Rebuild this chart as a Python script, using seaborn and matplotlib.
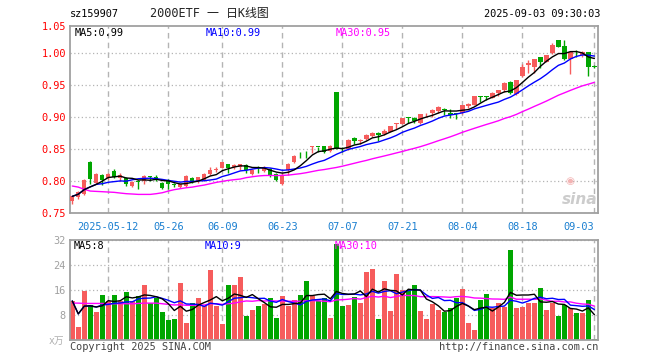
import numpy as np
import pandas as pd
import seaborn as sns
import matplotlib
matplotlib.use('Agg')
import matplotlib.pyplot as plt

# trading sessions shown on the chart (2025)
dates = ['04-29', '04-30',
         '05-06', '05-07', '05-08', '05-09', '05-12', '05-13', '05-14', '05-15', '05-16',
         '05-19', '05-20', '05-21', '05-22', '05-23', '05-26', '05-27', '05-28', '05-29', '05-30',
         '06-03', '06-04', '06-05', '06-06', '06-09', '06-10', '06-11', '06-12', '06-13',
         '06-16', '06-17', '06-18', '06-19', '06-20', '06-23', '06-24', '06-25', '06-26', '06-27', '06-30',
         '07-01', '07-02', '07-03', '07-04', '07-07', '07-08', '07-09', '07-10', '07-11',
         '07-14', '07-15', '07-16', '07-17', '07-18', '07-21', '07-22', '07-23', '07-24', '07-25',
         '07-28', '07-29', '07-30', '07-31',
         '08-01', '08-04', '08-05', '08-06', '08-07', '08-08', '08-11', '08-12', '08-13', '08-14', '08-15',
         '08-18', '08-19', '08-20', '08-21', '08-22', '08-25', '08-26', '08-27', '08-28', '08-29',
         '09-01', '09-02', '09-03']

opens = [0.7680, 0.7745, 0.7797, 0.8287, 0.7964, 0.8094, 0.8047, 0.8146, 0.8047, 0.8047,
         0.7922, 0.8000, 0.7995, 0.8068, 0.8057, 0.7964, 0.8016, 0.7943, 0.7900, 0.7922,
         0.8042, 0.7990, 0.8016, 0.8100, 0.8170, 0.8203, 0.8255, 0.8214, 0.8214, 0.8245,
         0.8100, 0.8198, 0.8151, 0.8182, 0.8110, 0.7948, 0.8174, 0.8290, 0.8415, 0.8418,
         0.8528, 0.8530, 0.8540, 0.8466, 0.9383, 0.8500, 0.8492, 0.8664, 0.8628, 0.8648,
         0.8695, 0.8752, 0.8727, 0.8763, 0.8885, 0.8888, 0.8990, 0.8980, 0.8904, 0.9036,
         0.9055, 0.9086, 0.9115, 0.9060, 0.9050, 0.9050, 0.9164, 0.9190, 0.9320, 0.9320,
         0.9294, 0.9365, 0.9417, 0.9536, 0.9354, 0.9635, 0.9800, 0.9780, 0.9927, 0.9860,
         0.9990, 1.0198, 1.0110, 0.9896, 0.9980, 0.9970, 1.0010, 0.9780]
highs = [0.7770, 0.7840, 0.8020, 0.8300, 0.8115, 0.8100, 0.8120, 0.8177, 0.8125, 0.8060,
         0.7990, 0.8005, 0.8086, 0.8078, 0.8083, 0.7980, 0.8020, 0.7964, 0.7953, 0.8088,
         0.8060, 0.8060, 0.8115, 0.8214, 0.8214, 0.8297, 0.8265, 0.8265, 0.8265, 0.8265,
         0.8190, 0.8224, 0.8224, 0.8203, 0.8115, 0.8115, 0.8278, 0.8398, 0.8445, 0.8460,
         0.8535, 0.8532, 0.8545, 0.8555, 0.9383, 0.8528, 0.8648, 0.8685, 0.8659, 0.8737,
         0.8755, 0.8768, 0.8800, 0.8862, 0.8906, 0.8985, 0.8995, 0.9003, 0.9045, 0.9060,
         0.9122, 0.9164, 0.9133, 0.9122, 0.9055, 0.9180, 0.9216, 0.9325, 0.9325, 0.9325,
         0.9382, 0.9418, 0.9545, 0.9562, 0.9578, 0.9823, 0.9880, 0.9896, 0.9930, 0.9969,
         1.0146, 1.0198, 1.0198, 1.0005, 1.0042, 1.0031, 1.0010, 0.9812]
lows = [0.7630, 0.7720, 0.7770, 0.7950, 0.7950, 0.7940, 0.8030, 0.8040, 0.8000, 0.7917,
        0.7900, 0.7865, 0.7953, 0.7995, 0.7995, 0.7875, 0.7875, 0.7900, 0.7885, 0.7900,
        0.7970, 0.7970, 0.8000, 0.8083, 0.8135, 0.8193, 0.8115, 0.8188, 0.8172, 0.8120,
        0.8083, 0.8125, 0.8135, 0.8060, 0.7995, 0.7937, 0.8085, 0.8270, 0.8360, 0.8360,
        0.8435, 0.8445, 0.8440, 0.8445, 0.8495, 0.8450, 0.8476, 0.8580, 0.8570, 0.8632,
        0.8680, 0.8617, 0.8715, 0.8755, 0.8807, 0.8880, 0.8906, 0.8904, 0.8890, 0.9000,
        0.9000, 0.9050, 0.9034, 0.8972, 0.8966, 0.9040, 0.9130, 0.9180, 0.9233, 0.9260,
        0.9285, 0.9330, 0.9380, 0.9354, 0.9340, 0.9625, 0.9690, 0.9687, 0.9760, 0.9850,
        0.9974, 1.0090, 0.9885, 0.9667, 0.9937, 0.9937, 0.9635, 0.9760]
closes = [0.7755, 0.7823, 0.8005, 0.8031, 0.8100, 0.8005, 0.8110, 0.8057, 0.8083, 0.7953,
          0.7980, 0.7980, 0.8070, 0.8050, 0.8031, 0.7885, 0.7953, 0.7930, 0.7943, 0.8068,
          0.7980, 0.8050, 0.8110, 0.8161, 0.8175, 0.8287, 0.8200, 0.8245, 0.8255, 0.8161,
          0.8172, 0.8193, 0.8203, 0.8089, 0.8016, 0.8094, 0.8258, 0.8393, 0.8410, 0.8412,
          0.8535, 0.8525, 0.8450, 0.8540, 0.8502, 0.8490, 0.8633, 0.8622, 0.8633, 0.8710,
          0.8747, 0.8721, 0.8773, 0.8852, 0.8890, 0.8977, 0.8980, 0.8935, 0.9039, 0.9040,
          0.9112, 0.9159, 0.9109, 0.9023, 0.9040, 0.9175, 0.9206, 0.9320, 0.9310, 0.9310,
          0.9377, 0.9414, 0.9530, 0.9375, 0.9573, 0.9780, 0.9833, 0.9896, 0.9854, 0.9969,
          1.0120, 1.0094, 0.9896, 1.0005, 0.9974, 1.0010, 0.9780, 0.9776]
# volume, in units of 万手
volumes = [12.5, 4.2, 15.8, 11.2, 9.1, 14.4, 12.5, 14.4, 12.5, 15.4,
           12.5, 14.1, 17.6, 11.7, 13.3, 9.1, 6.4, 6.7, 18.4, 5.5,
           11.8, 13.4, 10.9, 22.4, 10.9, 5.1, 17.6, 17.6, 20.2, 7.7,
           9.6, 10.9, 11.5, 13.4, 7.0, 14.1, 10.9, 12.8, 14.4, 18.9,
           14.1, 12.5, 13.4, 7.0, 30.7, 10.9, 11.2, 13.8, 11.8, 21.8,
           22.7, 6.7, 18.9, 9.3, 21.1, 16.0, 16.0, 17.6, 9.3, 6.7,
           11.5, 9.6, 9.0, 10.2, 13.4, 16.3, 5.4, 3.2, 12.8, 14.7,
           10.2, 11.8, 10.6, 28.8, 10.2, 10.6, 11.8, 11.8, 16.6, 9.6,
           11.8, 7.7, 11.2, 10.2, 8.6, 8.6, 12.8, 0.3]
# MA30 values for the first 29 sessions (history before the window)
ma30_head = [0.7917, 0.7900, 0.7865, 0.7838, 0.7833, 0.7828, 0.7823, 0.7818, 0.7807, 0.7797,
             0.7792, 0.7786, 0.7786, 0.7786, 0.7797, 0.7812, 0.7838, 0.7860, 0.7875, 0.7890,
             0.7900, 0.7917, 0.7932, 0.7953, 0.7974, 0.7990, 0.8005, 0.8016, 0.8026]
vol_ma30_head = [11.8, 11.8, 11.7, 11.7, 11.7, 11.7, 11.6, 11.6, 11.6, 11.6,
                 11.6, 11.7, 11.8, 11.8, 11.8, 11.6, 11.4, 11.2, 11.3, 11.1,
                 11.1, 11.2, 11.2, 11.6, 11.6, 11.4, 11.6, 11.8, 12.2]

tick_dates = ['05-12', '05-26', '06-09', '06-23', '07-07', '07-21', '08-04', '08-18', '09-03']
tick_labels = ['2025-05-12', '05-26', '06-09', '06-23', '07-07', '07-21', '08-04', '08-18', '09-03']
price_ticks = [0.75, 0.80, 0.85, 0.90, 0.95, 1.00]
vol_ticks = [8, 16, 24, 32]

RED = '#f65c5c'
GREEN = '#00a600'
FRAME = '#a0a0a0'
GRID = '#b4b4b4'
W, H = 660, 360


def px(x, y):
    return x / W, 1 - y / H


df = pd.DataFrame({'date': dates, 'open': opens, 'high': highs, 'low': lows,
                   'close': closes, 'vol': volumes})
df['idx'] = np.arange(len(df))
df['ma5'] = df['close'].rolling(5, min_periods=1).mean()
df['ma10'] = df['close'].rolling(10, min_periods=1).mean()
df['ma30'] = df['close'].rolling(30).mean()
df.loc[:len(ma30_head) - 1, 'ma30'] = ma30_head
df['vma5'] = df['vol'].rolling(5, min_periods=1).mean()
df['vma10'] = df['vol'].rolling(10, min_periods=1).mean()
df['vma30'] = df['vol'].rolling(30).mean()
df.loc[:len(vol_ma30_head) - 1, 'vma30'] = vol_ma30_head
df['color'] = np.where(df['close'] >= df['open'], RED, GREEN)

sns.set_theme(style='white')
plt.rcParams['font.family'] = ['DejaVu Sans Mono', 'Noto Sans CJK SC']

fig = plt.figure(figsize=(6.6, 3.6), dpi=100)
fig.patch.set_facecolor('white')
ax = fig.add_axes([70 / W, 1 - 212.7 / H, 528 / W, (212.7 - 26) / H])
ax2 = fig.add_axes([70 / W, 20 / H, 528 / W, 100 / H])

tick_pos = [dates.index(d) for d in tick_dates]

for a in (ax, ax2):
    a.set_facecolor('white')
    a.set_xlim(-0.38, 87.6)
    a.set_xticks(tick_pos)
    a.set_axisbelow(True)
    a.grid(axis='x', color=GRID, ls=(0, (4, 3)), lw=1.0)
    a.grid(axis='y', color=GRID, ls=(0, (1, 2)), lw=0.9)
    a.tick_params(length=0)
    for sp in a.spines.values():
        sp.set_color(FRAME)
        sp.set_linewidth(1.3)

# candles
ax.vlines(df['idx'], df['low'], df['high'], colors=df['color'], lw=1.0, zorder=2)
body_low = np.minimum(df['open'], df['close'])
body_h = np.maximum((df['close'] - df['open']).abs(), 0.0012)
ax.bar(df['idx'], body_h, bottom=body_low, width=0.72, color=df['color'], lw=0, zorder=3)

sns.lineplot(data=df, x='idx', y='ma30', ax=ax, color='#ff00ff', lw=1.0, zorder=4, legend=False)
sns.lineplot(data=df, x='idx', y='ma10', ax=ax, color='#0000ff', lw=1.0, zorder=4, legend=False)
sns.lineplot(data=df, x='idx', y='ma5', ax=ax, color='black', lw=1.0, zorder=4, legend=False)

ax.set_ylim(0.75, 0.75 + 0.05 * (212.7 - 26) / 32)
ax.set_yticks(price_ticks)
ax.set_yticklabels([f'{v:.2f}' for v in price_ticks], color='red', fontsize=7.4)
ax.tick_params(axis='y', pad=3)
ax.set_xticklabels(tick_labels, color='#1a7fd0', fontsize=7.4)
ax.tick_params(axis='x', pad=7)
ax.get_xticklabels()[-1].set_ha('right')
ax.set_xlabel('')
ax.set_ylabel('')

# volume
ax2.bar(df['idx'], df['vol'], width=0.82, color=df['color'], lw=0, zorder=2)
sns.lineplot(data=df, x='idx', y='vma30', ax=ax2, color='#ff00ff', lw=1.0, zorder=4, legend=False)
sns.lineplot(data=df, x='idx', y='vma10', ax=ax2, color='#0000ff', lw=1.0, zorder=4, legend=False)
sns.lineplot(data=df, x='idx', y='vma5', ax=ax2, color='black', lw=1.0, zorder=4, legend=False)
ax2.set_ylim(0, 32)
ax2.set_yticks(vol_ticks)
ax2.set_yticklabels([str(v) for v in vol_ticks], color='#a0a0a0', fontsize=7.4)
ax2.tick_params(axis='y', pad=3)
ax2.set_xticklabels([])
ax2.set_xlabel('')
ax2.set_ylabel('')

# header
fs = 7.4
fig.text(*px(70, 14), 'sz159907', ha='left', va='center', fontsize=fs, color='black')
fig.text(*px(150, 14), '2000ETF 一 日K线图', ha='left', va='center', fontsize=8.6, color='#222222')
fig.text(*px(600, 14), '2025-09-03 09:30:03', ha='right', va='center', fontsize=fs, color='black')
fig.text(*px(66, 27), '1.05', ha='right', va='center', fontsize=fs, color='red')

# MA captions
fig.text(*px(75, 33), 'MA5:0.99', ha='left', va='center', fontsize=fs, color='black')
fig.text(*px(206, 33), 'MA10:0.99', ha='left', va='center', fontsize=fs, color='#0000ff')
fig.text(*px(336, 33), 'MA30:0.95', ha='left', va='center', fontsize=fs, color='#ff00ff')
fig.text(*px(74, 246), 'MA5:8', ha='left', va='center', fontsize=fs, color='black')
fig.text(*px(205, 246), 'MA10:9', ha='left', va='center', fontsize=fs, color='#0000ff')
fig.text(*px(335, 246), 'MA30:10', ha='left', va='center', fontsize=fs, color='#ff00ff')

# watermark
fig.text(*px(570, 181), '◉', ha='center', va='center', fontsize=7.5, color='#f3b4b4',
         family=['DejaVu Sans'])
fig.text(*px(580, 200), 'sina', ha='center', va='center', fontsize=11, color='#cccccc',
         style='italic', weight='bold', family=['DejaVu Sans'])

# footer
fig.text(*px(64, 341), 'x万', ha='right', va='center', fontsize=7, color='#b0b0b0')
fig.text(*px(70, 347), 'Copyright 2025 SINA.COM', ha='left', va='center', fontsize=fs, color='#444444')
fig.text(*px(598, 347), 'http://finance.sina.com.cn', ha='right', va='center', fontsize=fs, color='#444444')

fig.savefig('out.png', dpi=100, facecolor='white')
